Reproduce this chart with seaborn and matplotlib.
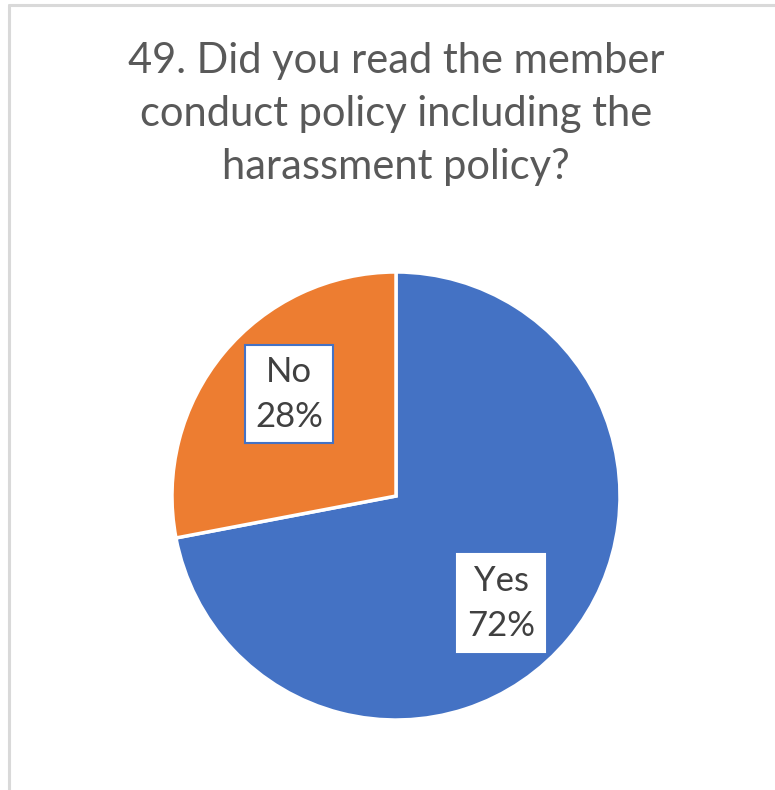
import matplotlib
matplotlib.use("Agg")
import matplotlib.pyplot as plt
import seaborn as sns
import numpy as np

# ---- data ----
categories = ["Yes", "No"]
percent_values = [72, 28]
title_text = "49. Did you read the member\nconduct policy including the\nharassment policy?"

sns.set_style("white")
plt.rcParams["font.family"] = ["Lato", "DejaVu Sans"]

colors = ["#4472C4", "#ED7D31"]

fig = plt.figure(figsize=(7.75, 7.90), dpi=100)
fig.patch.set_facecolor("white")

# frame lines (top and left) like the reference crop
fig.add_artist(plt.Line2D([9/775, 1.0], [1 - 5/790, 1 - 5/790], color="#D9D9D9", lw=2.2, transform=fig.transFigure))
fig.add_artist(plt.Line2D([9/775, 9/775], [0, 1 - 5/790], color="#D9D9D9", lw=2.2, transform=fig.transFigure))

lim = 1.25
R = 224
cx, cy = 396, 496
size = 2 * lim * R
ax = fig.add_axes([(cx - size / 2) / 775, (790 - cy - size / 2) / 790, size / 775, size / 790])

labels = [f"{c}\n{v}%" for c, v in zip(categories, percent_values)]
wedges, texts = ax.pie(
    percent_values,
    colors=colors,
    startangle=90,
    counterclock=False,
    labels=labels,
    labeldistance=0.67,
    wedgeprops=dict(edgecolor="white", linewidth=2.5),
    textprops=dict(fontsize=25, color="#404040", linespacing=1.5),
)
box_edges = ["white", "#4472C4"]
label_dist = [0.67, 0.66]
angle_shift = [-6.0, -4.0]
for w, t, ec, d, s in zip(wedges, texts, box_edges, label_dist, angle_shift):
    ang = np.deg2rad((w.theta1 + w.theta2) / 2 + s)
    t.set_position((d * np.cos(ang), d * np.sin(ang)))
    t.set_horizontalalignment("center")
    t.set_verticalalignment("center")
    t.set_bbox(dict(facecolor="white", edgecolor=ec, linewidth=1.5, boxstyle="square,pad=0.3"))

ax.set_xlim(-lim, lim)
ax.set_ylim(-lim, lim)
ax.set_aspect("equal")
ax.axis("off")

fig.text(396 / 775, 1 - 42 / 790, title_text, ha="center", va="top",
         fontsize=30, color="#595959", linespacing=1.48)

fig.savefig("out.png", dpi=100, facecolor="white")
